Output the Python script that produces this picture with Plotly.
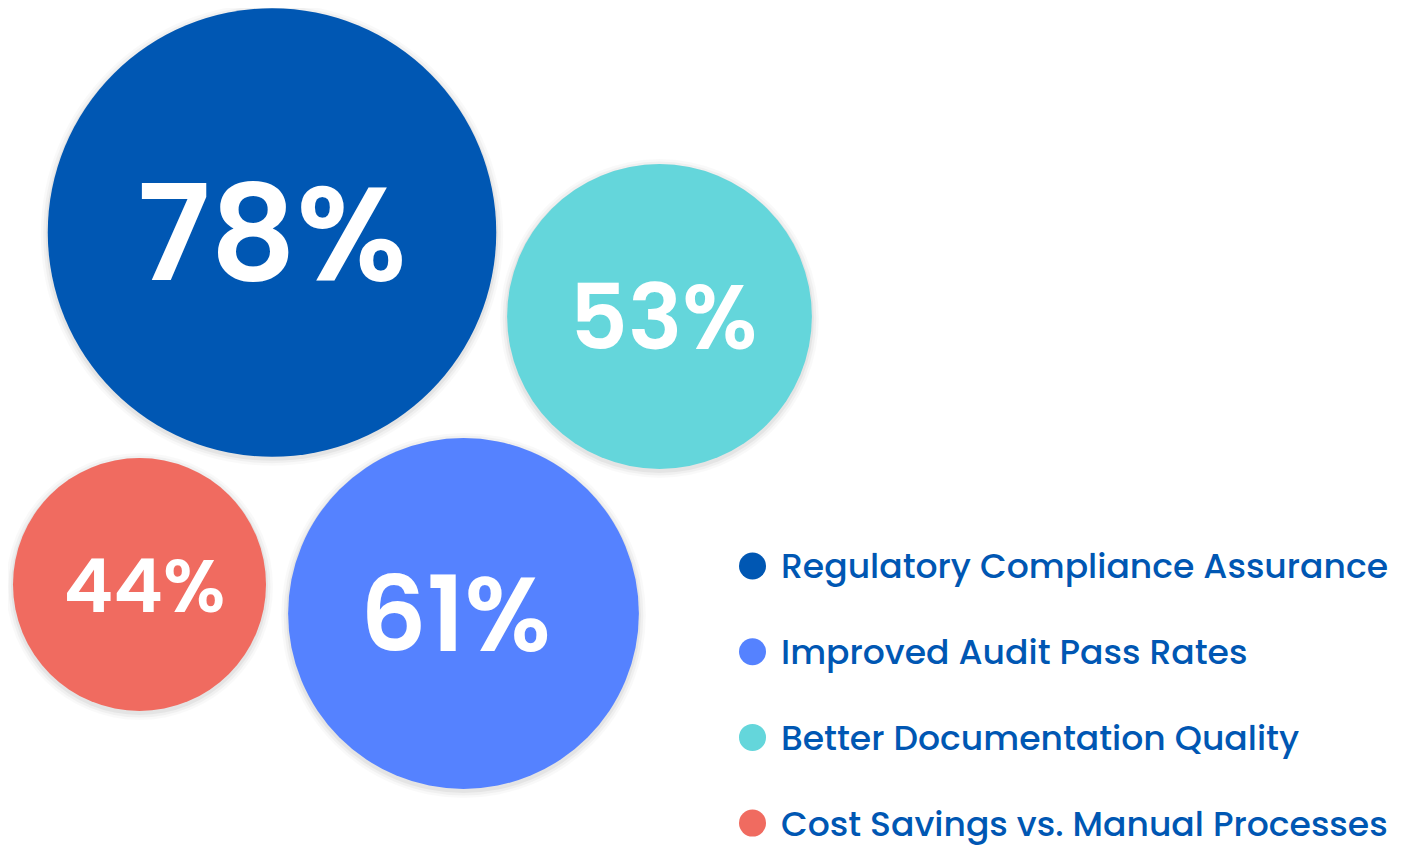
import plotly.graph_objects as go

# data
categories = [
    "Regulatory Compliance Assurance",
    "Improved Audit Pass Rates",
    "Better Documentation Quality",
    "Cost Savings vs. Manual Processes",
]
values = [78, 61, 53, 44]
labels = [f"{v}%" for v in values]
colors = ["#0057B3", "#5582FF", "#64D6DB", "#F06B60"]

# page is 1407 x 845, the browser body adds an 8px margin around the figure,
# so the axes are set up so that data units == page pixels
W, H = 1407, 845
OFF = 8
bubble_x = [272, 463.5, 659.5, 139.5]
bubble_y = [232.5, 613.5, 316.5, 584.5]
label_dx = [0, -8, 4, 5]   # small horizontal nudges of the labels
label_dy = [-1, 0, 0, 0]
PX_PER_PCT = 5.75      # bubble diameter per percentage point
FONT_PER_PCT = 1.71    # label font size per percentage point
TEXT_DROP = 0.11       # plotly centres text a bit high; nudge down by this * font size

FONT = "Poppins, 'Open Sans', sans-serif"
TEXT_BLUE = "#0057B3"

fig = go.Figure()

# soft drop shadow under each bubble
for grow, alpha in [(14, 0.035), (9, 0.05), (4, 0.07)]:
    fig.add_trace(go.Scatter(
        x=bubble_x, y=[y + 2 for y in bubble_y],
        mode="markers",
        marker=dict(
            size=[v * PX_PER_PCT + grow for v in values],
            sizemode="diameter",
            color=f"rgba(0,0,0,{alpha})",
            line=dict(width=0),
        ),
        cliponaxis=False,
        hoverinfo="skip", showlegend=False,
    ))

# bubbles
fig.add_trace(go.Scatter(
    x=bubble_x, y=bubble_y,
    mode="markers",
    marker=dict(
        size=values,
        sizemode="diameter",
        sizeref=1 / PX_PER_PCT,
        color=colors,
        opacity=1,
        line=dict(width=0),
    ),
    cliponaxis=False,
    text=labels,
    customdata=categories,
    hovertemplate="%{customdata}: %{text}<extra></extra>",
    showlegend=False,
))

# percentage labels
label_sizes = [v * FONT_PER_PCT for v in values]
fig.add_trace(go.Scatter(
    x=[x + dx for x, dx in zip(bubble_x, label_dx)],
    y=[y + dy + s * TEXT_DROP for y, dy, s in zip(bubble_y, label_dy, label_sizes)],
    mode="text",
    text=labels,
    textposition="middle center",
    textfont=dict(family=FONT, size=label_sizes, color="white", weight=600),
    hoverinfo="skip", showlegend=False,
))

# legend drawn on the canvas
leg_x = 752.5
leg_y0 = 566
leg_step = 85.7
leg_size = 34.6
leg_y = [leg_y0 + i * leg_step for i in range(len(categories))]

fig.add_trace(go.Scatter(
    x=[leg_x] * len(categories), y=leg_y,
    mode="markers",
    marker=dict(size=27, color=colors, line=dict(width=0)),
    hoverinfo="skip", showlegend=False,
))
fig.add_trace(go.Scatter(
    x=[leg_x + 28.5] * len(categories),
    y=[y + leg_size * TEXT_DROP for y in leg_y],
    mode="text",
    text=categories,
    textposition="middle right",
    textfont=dict(family=FONT, size=leg_size, color=TEXT_BLUE, weight=500),
    cliponaxis=False,
    hoverinfo="skip", showlegend=False,
))

fig.update_layout(
    width=W - OFF, height=H - OFF,
    margin=dict(l=0, r=0, t=0, b=0),
    paper_bgcolor="white",
    plot_bgcolor="white",
    xaxis=dict(range=[OFF, W], visible=False, fixedrange=True),
    yaxis=dict(range=[H, OFF], visible=False, fixedrange=True),
    hovermode="closest",
)

fig.write_html("out.html")
